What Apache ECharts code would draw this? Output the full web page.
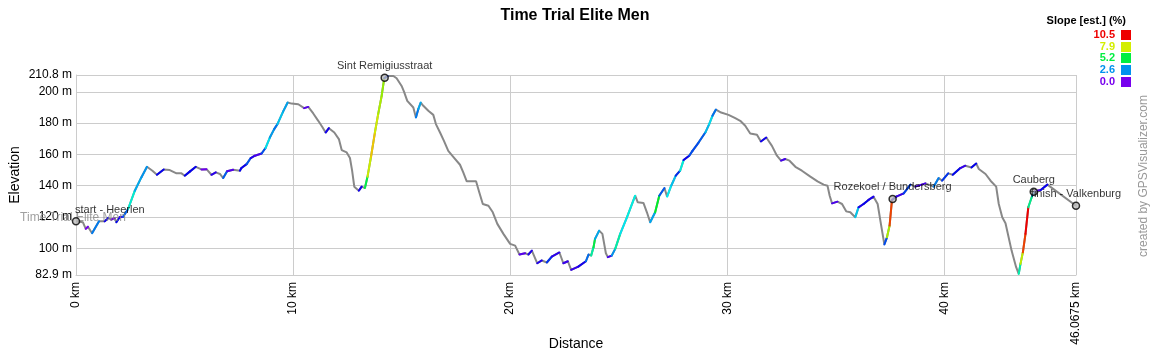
<!DOCTYPE html>
<html>
<head>
<meta charset="utf-8">
<title>Time Trial Elite Men</title>
<script src="https://cdn.jsdelivr.net/npm/echarts@6/dist/echarts.min.js"></script>
<style>
  html, body { margin: 0; padding: 0; background: #fff; }
  #chart { width: 1150px; height: 350px; }
</style>
</head>
<body>
<div id="chart"></div>
<script>
// Elevation profile: distance along the course (km) and elevation (m)
const distKm = [
  0.00, 0.32, 0.45, 0.55, 0.74, 1.06, 1.32, 1.48, 1.63, 1.78, 1.86, 2.01, 2.17, 2.40, 2.71, 3.01,
  3.27, 3.52, 3.73, 4.04, 4.32, 4.63, 4.86, 5.01, 5.24, 5.52, 5.78, 6.01, 6.24, 6.44, 6.63, 6.78,
  6.96, 7.24, 7.55, 7.62, 7.86, 8.05, 8.24, 8.55, 8.73, 8.93, 9.13, 9.28, 9.54, 9.75, 9.93, 10.24,
  10.51, 10.70, 10.93, 11.16, 11.34, 11.50, 11.65, 11.90, 12.11, 12.24, 12.47, 12.62, 12.72, 12.82,
  13.03, 13.16, 13.31, 13.43, 13.59, 13.77, 13.92, 14.08, 14.20, 14.36, 14.62, 14.77, 15.00, 15.11,
  15.26, 15.54, 15.66, 15.77, 15.88, 16.00, 16.23, 16.46, 16.58, 16.77, 16.95, 17.15, 17.38, 17.69,
  17.84, 18.00, 18.43, 18.58, 18.74, 19.00, 19.20, 19.41, 19.69, 20.00, 20.23, 20.43, 20.69, 20.84,
  21.00, 21.25, 21.46, 21.69, 21.92, 22.27, 22.45, 22.66, 22.81, 23.14, 23.49, 23.61, 23.73, 23.84,
  23.91, 24.10, 24.25, 24.41, 24.50, 24.68, 24.84, 25.07, 25.38, 25.76, 25.88, 26.14, 26.30, 26.45,
  26.68, 26.87, 27.11, 27.23, 27.42, 27.63, 27.83, 27.99, 28.25, 28.40, 28.68, 28.99, 29.17, 29.32,
  29.48, 29.72, 30.06, 30.37, 30.60, 30.83, 31.06, 31.37, 31.55, 31.80, 32.06, 32.29, 32.48, 32.67,
  32.87, 33.14, 33.44, 33.83, 34.16, 34.44, 34.62, 34.72, 34.83, 35.08, 35.29, 35.48, 35.67, 35.90,
  36.05, 36.28, 36.51, 36.74, 36.93, 37.08, 37.24, 37.36, 37.48, 37.59, 37.79, 38.13, 38.44, 38.67,
  39.13, 39.51, 39.74, 39.90, 40.18, 40.39, 40.74, 40.97, 41.25, 41.47, 41.59, 41.90, 42.13, 42.39,
  42.51, 42.67, 42.82, 43.10, 43.31, 43.43, 43.51, 43.62, 43.74, 43.87, 44.05, 44.17, 44.44, 44.75,
  46.0675
];
const elevM = [
  117.2, 116.6, 112.4, 113.8, 109.6, 117.2, 117.2, 119.4, 118.3, 119.4, 116.6, 119.8, 120.2, 125.1, 136.8, 145.3,
  152.1, 149.6, 147.0, 150.4, 150.0, 147.9, 147.9, 146.4, 149.0, 152.1, 150.4, 150.6, 147.0, 148.5, 147.5, 144.9,
  149.2, 150.2, 149.6, 151.3, 153.8, 157.7, 159.2, 160.6, 164.1, 170.8, 176.2, 179.4, 187.4, 193.2, 192.5, 192.1,
  189.6, 190.4, 186.2, 181.5, 177.7, 174.0, 176.8, 174.0, 169.8, 162.8, 161.3, 157.7, 149.6, 139.4,
  136.8, 139.4, 138.5, 145.8, 158.5, 174.0, 185.8, 197.4, 208.7, 210.2, 210.2, 208.7, 203.8, 200.2,
  194.3, 190.0, 183.6, 189.0, 193.2, 191.1, 187.9, 185.3, 179.4, 174.0, 168.7, 162.3, 158.5, 153.4,
  148.5, 142.8, 142.8, 135.7, 128.3, 127.2, 123.0, 115.6, 109.2, 102.8, 101.7, 96.0, 96.8, 96.0,
  98.5, 90.4, 92.2, 90.9, 94.7, 97.3, 90.4, 91.7, 86.2, 88.3, 91.7, 96.0, 95.3, 100.6,
  106.0, 111.3, 109.2, 96.8, 94.3, 95.3, 99.6, 109.2, 119.8, 133.6, 129.4, 129.0, 123.0, 116.6,
  123.0, 133.6, 138.5, 133.0, 140.0, 146.4, 149.6, 156.4, 159.2, 162.3, 167.6, 174.0, 179.4, 184.7,
  188.7, 186.8, 185.3, 183.2, 181.5, 178.3, 173.4, 172.6, 168.3, 170.8, 165.5, 159.2, 156.0, 157.1,
  156.0, 152.1, 149.6, 145.8, 142.8, 140.7, 140.0, 133.6, 128.7, 129.8, 128.3, 123.6, 123.0, 119.8,
  126.2, 128.3, 130.9, 133.0, 128.3, 115.6, 102.4, 107.0, 114.5, 130.9, 133.0, 135.1, 140.7, 139.4,
  141.5, 139.4, 144.9, 143.2, 147.9, 147.0, 151.3, 152.8, 151.7, 154.2, 150.7, 147.5, 143.2, 139.4,
  128.3, 119.8, 116.0, 98.5, 87.9, 83.6, 90.0, 97.4, 109.2, 126.2, 133.6, 136.4, 137.3, 140.7,
  127.2
];

// Named points along the course
const waypointNames = ['start - Heerlen', 'Sint Remigiusstraat', 'Rozekoel / Bundersberg', 'Cauberg', 'finish - Valkenburg'];
const waypointKm    = [0, 14.22, 37.62, 44.12, 46.0675];
const waypointElev  = [117.2, 209.0, 131.5, 136.2, 127.2];
const trackName = 'Time Trial Elite Men';

// Axis tick values
const xTicks = [0, 10, 20, 30, 40, 46.0675];
const yTicks = [82.9, 100, 120, 140, 160, 180, 200, 210.8];

// Slope legend entries (%)
const slopeLegend = [10.5, 7.9, 5.2, 2.6, 0.0];
const slopeMax = 10.5;

const FONT = '"Liberation Sans", Arial, sans-serif';

// Hue runs from violet (flat) to red (steepest)
function slopeColor(s) {
  const t = Math.max(0, Math.min(s, slopeMax)) / slopeMax;
  const hue = 270 * (1 - t);
  return 'hsl(' + hue.toFixed(1) + ',100%,46.7%)';
}

// Elevation at an arbitrary distance, by linear interpolation of the profile
function elevAt(d) {
  if (d <= distKm[0]) return elevM[0];
  for (let i = 1; i < distKm.length; i++) {
    if (d <= distKm[i]) {
      const f = (d - distKm[i - 1]) / (distKm[i] - distKm[i - 1]);
      return elevM[i - 1] + f * (elevM[i] - elevM[i - 1]);
    }
  }
  return elevM[elevM.length - 1];
}

// Estimated slope (%) around a segment, averaged over a short window
const SLOPE_WINDOW_KM = 0.2;
function slopeEstimate(x0, x1) {
  const mid = (x0 + x1) / 2;
  const half = Math.max(SLOPE_WINDOW_KM, x1 - x0) / 2;
  const a = mid - half, b = mid + half;
  return (elevAt(b) - elevAt(a)) / ((b - a) * 1000) * 100;
}

const profile = distKm.map((d, i) => [d, elevM[i]]);
const segments = [];
for (let i = 0; i < distKm.length - 1; i++) {
  segments.push([distKm[i], elevM[i], distKm[i + 1], elevM[i + 1]]);
}

const waypointData = waypointNames.map((n, i) => {
  const item = { name: n, value: [waypointKm[i], waypointElev[i]] };
  if (i === 0) item.label = { align: 'left', offset: [-1, 0] };
  return item;
});

const legendGraphics = [{
  type: 'text', x: 1126, y: 21,
  style: { text: 'Slope [est.] (%)', font: 'bold 11px ' + FONT, fill: '#000', align: 'right', verticalAlign: 'middle' }
}];
slopeLegend.forEach((v, i) => {
  const cy = 35 + i * 11.7;
  legendGraphics.push({
    type: 'text', x: 1115, y: cy,
    style: { text: v.toFixed(1), font: 'bold 11px ' + FONT, fill: slopeColor(v), align: 'right', verticalAlign: 'middle' }
  });
  legendGraphics.push({
    type: 'rect', shape: { x: 1121, y: Math.round(cy - 5), width: 10, height: 10 },
    style: { fill: slopeColor(v) }
  });
});
legendGraphics.push({
  type: 'text', x: 1144, y: 176, rotation: Math.PI / 2,
  style: { text: 'created by GPSVisualizer.com', font: '12px ' + FONT, fill: '#999', align: 'center', verticalAlign: 'middle' }
});

const chart = echarts.init(document.getElementById('chart'), null, { renderer: 'canvas' });
chart.setOption({
  animation: false,
  backgroundColor: '#fff',
  title: {
    text: 'Time Trial Elite Men',
    left: 'center', top: 3,
    textStyle: { fontFamily: FONT, fontSize: 16, fontWeight: 'bold', color: '#000' }
  },
  graphic: legendGraphics,
  grid: { left: 76, right: 74, top: 75, bottom: 75, containLabel: false, outerBoundsMode: 'none' },
  xAxis: {
    type: 'value', min: 0, max: 46.0675,
    name: 'Distance', nameLocation: 'middle', nameGap: 62, nameMoveOverlap: false,
    nameTextStyle: { fontFamily: FONT, fontSize: 14, color: '#000' },
    axisLine: { show: true, lineStyle: { color: '#ccc', width: 1 } },
    axisTick: { show: false, customValues: xTicks },
    splitLine: { show: true, lineStyle: { color: '#ccc', width: 1 } },
    axisLabel: {
      customValues: xTicks, rotate: 90, margin: 7,
      fontFamily: FONT, fontSize: 12, color: '#000',
      formatter: v => v + ' km'
    }
  },
  yAxis: {
    type: 'value', min: 82.9, max: 210.8,
    name: 'Elevation', nameLocation: 'middle', nameGap: 54, nameMoveOverlap: false,
    nameTextStyle: { fontFamily: FONT, fontSize: 14, color: '#000' },
    axisLine: { show: true, lineStyle: { color: '#ccc', width: 1 } },
    axisTick: { show: false, customValues: yTicks },
    splitLine: { show: true, lineStyle: { color: '#ccc', width: 1 } },
    axisLabel: {
      customValues: yTicks, margin: 4,
      fontFamily: FONT, fontSize: 12, color: '#000',
      formatter: v => v + ' m'
    }
  },
  series: [
    {
      type: 'line', data: profile, symbol: 'none', z: 2,
      lineStyle: { color: '#888', width: 2 },
      silent: true
    },
    {
      type: 'custom', data: segments, z: 3, silent: true,
      encode: { x: [0, 2], y: [1, 3] },
      renderItem: (params, api) => {
        const x0 = api.value(0), y0 = api.value(1), x1 = api.value(2), y1 = api.value(3);
        if (!(y1 > y0)) return null;
        const slope = slopeEstimate(x0, x1);
        const p0 = api.coord([x0, y0]);
        const p1 = api.coord([x1, y1]);
        return {
          type: 'line',
          shape: { x1: p0[0], y1: p0[1], x2: p1[0], y2: p1[1] },
          style: { stroke: slopeColor(Math.max(0, slope)), lineWidth: 2, lineCap: 'round' }
        };
      }
    },
    {
      type: 'scatter', z: 4, silent: true,
      data: [[waypointKm[0], waypointElev[0]]],
      symbolSize: 0,
      label: {
        show: true, position: 'inside', formatter: trackName, offset: [-3, -4],
        fontFamily: FONT, fontSize: 12, color: '#888'
      }
    },
    {
      type: 'scatter', z: 5, silent: true,
      data: waypointData,
      symbol: 'circle', symbolSize: 7,
      itemStyle: { color: '#bbb', borderColor: '#000', borderWidth: 1.5 },
      label: {
        show: true, position: 'top', distance: 2,
        formatter: p => p.name,
        fontFamily: FONT, fontSize: 11, color: '#000'
      }
    }
  ]
});
</script>
</body>
</html>
